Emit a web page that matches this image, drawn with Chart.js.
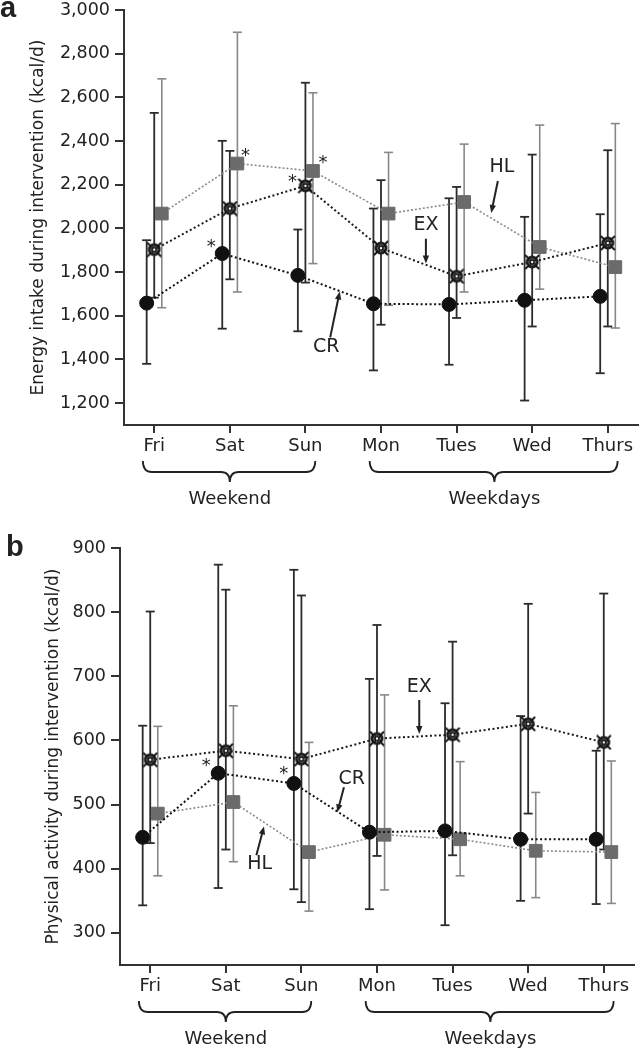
<!DOCTYPE html>
<html>
<head>
<meta charset="utf-8">
<script src="https://cdn.jsdelivr.net/npm/chart.js@4.4.1/dist/chart.umd.min.js"></script>
<style>
  body { margin: 0; background: #fff; }
  #wrap { position: relative; width: 639px; height: 1050px; }
  .panel { position: absolute; left: 0; width: 639px; height: 525px; }
</style>
</head>
<body>
<div id="wrap">
  <div class="panel" style="top:0"><canvas id="chartA"></canvas></div>
  <div class="panel" style="top:525px"><canvas id="chartB"></canvas></div>
</div>
<script>
const days = ['Fri', 'Sat', 'Sun', 'Mon', 'Tues', 'Wed', 'Thurs'];
const dayGroups = [['Weekend', 0, 2], ['Weekdays', 3, 6]];

// a: energy intake (kcal/d)
const intakeTicks = [1200, 1400, 1600, 1800, 2000, 2200, 2400, 2600, 2800, 3000];
const intakeCR = [1658, 1885, 1785, 1655, 1652, 1671, 1689];
const intakeCRLow = [1380, 1541, 1529, 1350, 1376, 1212, 1337];
const intakeCRHigh = [1946, 2401, 1995, 2091, 2138, 2053, 2065];
const intakeEX = [1903, 2091, 2195, 1910, 1781, 1846, 1933];
const intakeEXLow = [1683, 1767, 1752, 1559, 1590, 1551, 1551];
const intakeEXHigh = [2529, 2355, 2667, 2221, 2190, 2338, 2358];
const intakeHL = [2068, 2297, 2263, 2068, 2121, 1915, 1823];
const intakeHLLow = [1637, 1709, 1839, 1648, 1709, 1722, 1544];
const intakeHLHigh = [2685, 2898, 2621, 2348, 2386, 2473, 2480];

// b: physical activity (kcal/d)
const activityTicks = [300, 400, 500, 600, 700, 800, 900];
const activityCR = [449, 549, 533, 457, 459, 446, 446];
const activityCRLow = [343, 370, 368, 337, 312, 350, 345];
const activityCRHigh = [623, 874, 866, 696, 658, 638, 584];
const activityEX = [570, 584, 571, 603, 609, 626, 597];
const activityEXLow = [440, 430, 348, 420, 421, 486, 430];
const activityEXHigh = [801, 835, 826, 780, 754, 813, 829];
const activityHL = [486, 504, 426, 453, 446, 428, 426];
const activityHLLow = [389, 411, 334, 367, 389, 355, 346];
const activityHLHigh = [622, 654, 597, 671, 567, 519, 568];

const FONT = 'DejaVu Sans';
const INK = '#222';
const SHIFT = { CR: -0.1, EX: 0, HL: 0.1 };

// crossed-circle marker for EX
function exMarker() {
  const c = document.createElement('canvas');
  c.width = 16; c.height = 16;
  const g = c.getContext('2d');
  g.fillStyle = '#1e1e1e';
  g.beginPath(); g.arc(8, 8, 6.5, 0, Math.PI * 2); g.fill();
  g.strokeStyle = '#111'; g.lineWidth = 1.8;
  g.beginPath(); g.moveTo(1, 1); g.lineTo(15, 15); g.moveTo(15, 1); g.lineTo(1, 15); g.stroke();
  g.strokeStyle = '#bbb'; g.lineWidth = 0.9; g.setLineDash([1.2, 1.2]);
  g.beginPath(); g.arc(8, 8, 3.3, 0, Math.PI * 2); g.stroke();
  g.setLineDash([]);
  g.fillStyle = '#fff';
  g.beginPath(); g.arc(8, 8, 1.2, 0, Math.PI * 2); g.fill();
  return c;
}
const exImg = exMarker();

function means(values, shift) {
  return values.map((v, i) => ({ x: i + shift, y: v }));
}

function bars(lo, hi, shift, color, width) {
  const data = [];
  lo.forEach((v, i) => {
    data.push({ x: i + shift, y: v }, { x: i + shift, y: hi[i] }, { x: i + shift, y: null });
  });
  return {
    data, borderColor: color, borderWidth: width,
    pointStyle: 'line', pointRadius: 4.5, pointBorderColor: color, pointBorderWidth: width,
    order: 2
  };
}

function drawArrow(ctx, x1, y1, x2, y2) {
  const a = Math.atan2(y2 - y1, x2 - x1);
  const len = 8, half = 3.2;
  ctx.beginPath();
  ctx.moveTo(x1, y1);
  ctx.lineTo(x2 - Math.cos(a) * len * 0.7, y2 - Math.sin(a) * len * 0.7);
  ctx.stroke();
  ctx.beginPath();
  ctx.moveTo(x2, y2);
  ctx.lineTo(x2 - len * Math.cos(a) + half * Math.sin(a), y2 - len * Math.sin(a) - half * Math.cos(a));
  ctx.lineTo(x2 - len * Math.cos(a) - half * Math.sin(a), y2 - len * Math.sin(a) + half * Math.cos(a));
  ctx.closePath();
  ctx.fill();
}

function drawBrace(ctx, xa, xb, xm, y0) {
  const y1 = y0 + 11, y2 = y0 + 21, r = 9;
  ctx.beginPath();
  ctx.moveTo(xa, y0);
  ctx.quadraticCurveTo(xa, y1, xa + r, y1);
  ctx.lineTo(xm - r, y1);
  ctx.quadraticCurveTo(xm, y1, xm, y2);
  ctx.quadraticCurveTo(xm, y1, xm + r, y1);
  ctx.lineTo(xb - r, y1);
  ctx.quadraticCurveTo(xb, y1, xb, y0);
  ctx.stroke();
}

const extras = {
  id: 'extras',
  afterDraw(chart, args, opts) {
    const { ctx } = chart;
    const x = chart.scales.x, y = chart.scales.y;
    const base = chart.chartArea.bottom;
    ctx.save();
    ctx.strokeStyle = INK; ctx.fillStyle = INK;

    // braces under the days
    ctx.lineWidth = 1.8;
    ctx.font = '18px "' + FONT + '"';
    ctx.textAlign = 'center'; ctx.textBaseline = 'middle';
    dayGroups.forEach(([name, first, last]) => {
      const xa = x.getPixelForValue(first - 0.15);
      const xb = x.getPixelForValue(last + 0.13);
      const xm = x.getPixelForValue((first + last) / 2);
      drawBrace(ctx, xa, xb, xm, base + 36);
      ctx.fillText(name, xm, base + 74);
    });

    // significance stars
    ctx.font = '18px "' + FONT + '"';
    ctx.textBaseline = 'alphabetic';
    opts.stars.forEach(([vals, key, day, dx, dy]) => {
      const px = x.getPixelForValue(day + SHIFT[key]) + dx;
      const py = y.getPixelForValue(vals[day]) + dy;
      ctx.fillText('*', px, py + 10);
    });

    // group labels with arrows
    ctx.font = '19px "' + FONT + '"';
    ctx.textBaseline = 'middle';
    ctx.lineWidth = 2;
    opts.callouts.forEach(c => {
      ctx.fillText(c.text, x.getPixelForValue(c.at[0]), y.getPixelForValue(c.at[1]));
      drawArrow(ctx, x.getPixelForValue(c.from[0]), y.getPixelForValue(c.from[1]),
        x.getPixelForValue(c.to[0]), y.getPixelForValue(c.to[1]));
    });

    // panel letter
    ctx.font = 'bold 29px "Liberation Sans"';
    ctx.textAlign = 'left'; ctx.textBaseline = 'alphabetic';
    ctx.fillText(opts.letter, opts.letterAt[0], opts.letterAt[1]);
    ctx.restore();
  }
};

function buildChart(p) {
  return new Chart(document.getElementById(p.canvas).getContext('2d'), {
    type: 'line',
    data: {
      datasets: [
        {
          label: 'CR', data: means(p.cr, SHIFT.CR), order: 1,
          borderColor: '#111', borderWidth: 2, borderDash: [2, 2.5],
          pointStyle: 'circle', pointRadius: 7, pointBackgroundColor: '#111', pointBorderColor: '#111', pointBorderWidth: 1
        },
        {
          label: 'EX', data: means(p.ex, SHIFT.EX), order: 1,
          borderColor: '#1a1a1a', borderWidth: 2, borderDash: [2, 2.5],
          pointStyle: exImg
        },
        {
          label: 'HL', data: means(p.hl, SHIFT.HL), order: 1,
          borderColor: '#8a8a8a', borderWidth: 1.6, borderDash: [2, 2],
          pointStyle: 'rect', pointRadius: 9, pointBackgroundColor: '#6b6b6b', pointBorderColor: '#6b6b6b', pointBorderWidth: 1
        },
        bars(p.crLow, p.crHigh, SHIFT.CR, '#2b2b2b', 1.8),
        bars(p.exLow, p.exHigh, SHIFT.EX, '#2b2b2b', 1.8),
        bars(p.hlLow, p.hlHigh, SHIFT.HL, '#888', 1.6)
      ]
    },
    options: {
      responsive: true,
      maintainAspectRatio: false,
      animation: false,
      events: [],
      layout: { autoPadding: false, padding: { left: p.padLeft, top: p.padTop, right: p.padRight, bottom: 0 } },
      plugins: {
        legend: { display: false },
        tooltip: { enabled: false },
        extras: { stars: p.stars, callouts: p.callouts, letter: p.letter, letterAt: p.letterAt }
      },
      scales: {
        x: {
          type: 'linear', min: -0.4, max: 6.4,
          afterBuildTicks: sc => { sc.ticks = days.map((d, i) => ({ value: i })); },
          afterFit: sc => { sc.height = p.bottomSpace; sc.paddingLeft = 0; sc.paddingRight = 0; },
          ticks: { callback: v => days[v], font: { family: FONT, size: 18 }, color: INK, padding: 3, maxRotation: 0, autoSkip: false },
          grid: { drawOnChartArea: false, tickLength: 8, color: '#333', lineWidth: 2 },
          border: { color: '#333', width: 2 }
        },
        y: {
          min: p.yMin, max: p.yMax,
          afterBuildTicks: sc => { sc.ticks = p.yTicks.map(v => ({ value: v })); },
          afterFit: sc => { sc.width = p.axisX - p.padLeft; sc.paddingTop = 0; sc.paddingBottom = 0; },
          ticks: { callback: v => v.toLocaleString('en-US'), font: { family: FONT, size: 17.5 }, color: INK, padding: 5 },
          grid: { drawOnChartArea: false, tickLength: 9, color: '#333', lineWidth: 2 },
          border: { color: '#333', width: 2 },
          title: { display: true, text: p.yTitle, font: { family: FONT, size: 17 }, color: INK, padding: 0 }
        }
      }
    },
    plugins: [extras]
  });
}

buildChart({
  canvas: 'chartA', letter: 'a', letterAt: [0, 17],
  yMin: 1100, yMax: 3000, yTicks: intakeTicks,
  yTitle: 'Energy intake during intervention (kcal/d)',
  padLeft: 28, axisX: 124, padTop: 10, padRight: 1, bottomSpace: 100,
  cr: intakeCR, crLow: intakeCRLow, crHigh: intakeCRHigh,
  ex: intakeEX, exLow: intakeEXLow, exHigh: intakeEXHigh,
  hl: intakeHL, hlLow: intakeHLLow, hlHigh: intakeHLHigh,
  stars: [[intakeCR, 'CR', 1, -11, -12], [intakeHL, 'HL', 1, 8, -13], [intakeEX, 'EX', 2, -13, -9], [intakeHL, 'HL', 2, 10, -13]],
  callouts: [
    { text: 'HL', at: [4.6, 2282], from: [4.546, 2217], to: [4.458, 2071] },
    { text: 'EX', at: [3.594, 2014], from: [3.594, 1953], to: [3.594, 1839] },
    { text: 'CR', at: [2.275, 1457], from: [2.328, 1501], to: [2.454, 1711] }
  ]
});

buildChart({
  canvas: 'chartB', letter: 'b', letterAt: [6, 31],
  yMin: 250, yMax: 900, yTicks: activityTicks,
  yTitle: 'Physical activity during intervention (kcal/d)',
  padLeft: 43, axisX: 120, padTop: 23, padRight: 5, bottomSpace: 85,
  cr: activityCR, crLow: activityCRLow, crHigh: activityCRHigh,
  ex: activityEX, exLow: activityEXLow, exHigh: activityEXHigh,
  hl: activityHL, hlLow: activityHLLow, hlHigh: activityHLHigh,
  stars: [[activityCR, 'CR', 1, -12, -12], [activityCR, 'CR', 2, -10, -14]],
  callouts: [
    { text: 'HL', at: [1.448, 407], from: [1.404, 421], to: [1.505, 466] },
    { text: 'EX', at: [3.559, 683], from: [3.559, 663], to: [3.559, 610] },
    { text: 'CR', at: [2.665, 540], from: [2.563, 527], to: [2.474, 488] }
  ]
});
</script>
</body>
</html>
